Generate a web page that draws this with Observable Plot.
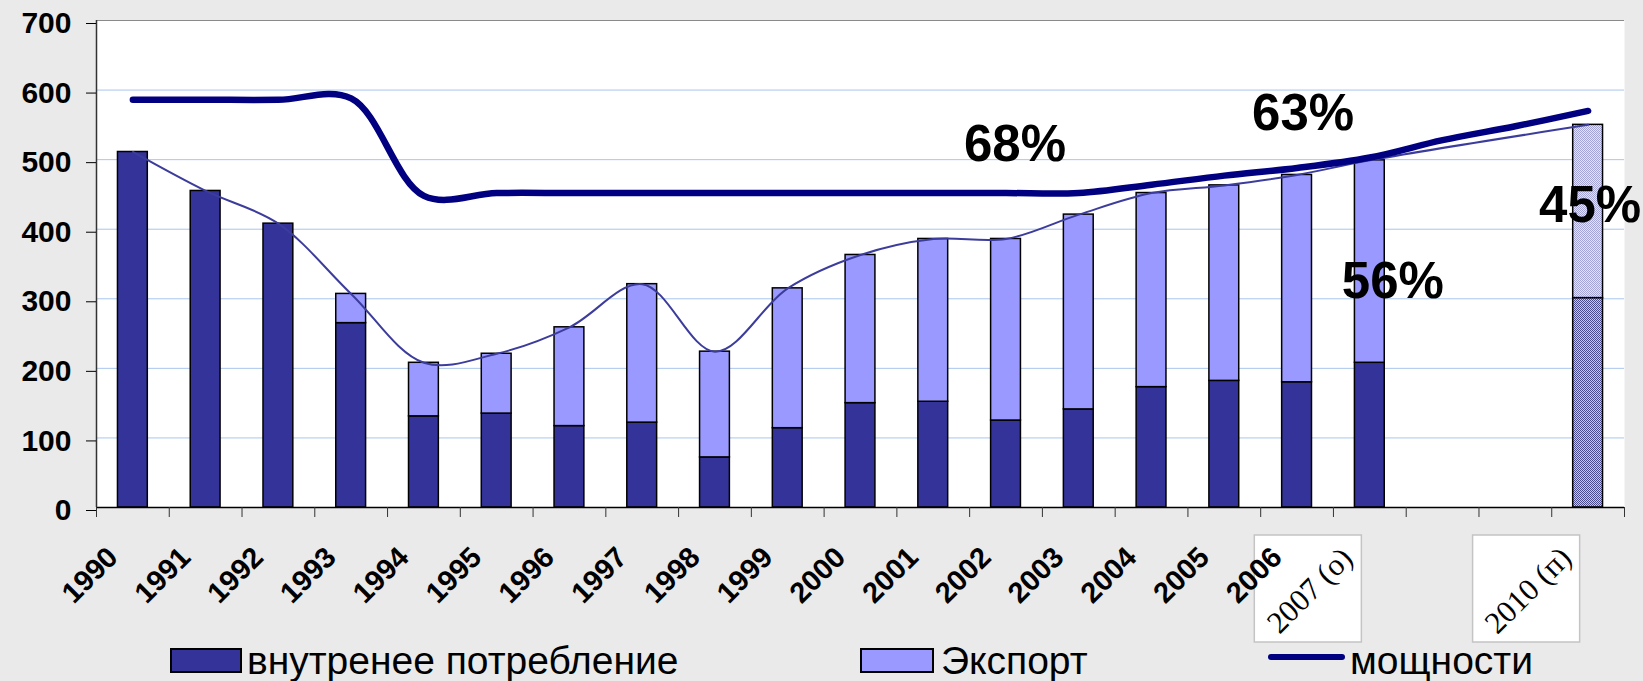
<!DOCTYPE html>
<html><head><meta charset="utf-8">
<script src="https://cdn.jsdelivr.net/npm/d3@7"></script>
<script src="https://cdn.jsdelivr.net/npm/@observablehq/plot@0.6"></script>
<style>
html,body{margin:0;padding:0;background:#eaeaea;}
#wrap{position:relative;width:1643px;height:681px;overflow:hidden;font-family:"Liberation Sans",Arial,sans-serif;}
#wrap svg{position:absolute;left:0;top:0;}
.sw{position:absolute;box-sizing:border-box;border:2px solid #000;}
.lt{position:absolute;font-size:39px;line-height:39px;color:#000;white-space:nowrap;}
.ll{position:absolute;height:6px;background:#000080;border-radius:3px;}
</style></head><body><div id="wrap"></div>
<script>
// categories
const years = ["1990","1991","1992","1993","1994","1995","1996","1997","1998","1999","2000","2001","2002","2003","2004","2005","2006","2007","2008","2009","2010"];
const barYears = ["1990","1991","1992","1993","1994","1995","1996","1997","1998","1999","2000","2001","2002","2003","2004","2005","2006","2007","2010"];
// series values
const domestic = [511,455,408,265,131,135,117,122,72,114,150,152,125,141,173,182,180,208,301];
const exportV  = [0,0,0,42,77,86,142,199,152,201,213,234,261,280,279,281,298,291,249];
const capacity = [586,586,586,588,448,452,452,452,452,452,452,452,452,452,464,477,488,503,528,548,570];
// tick labels
const yTicks = [0,100,200,300,400,500,600,700];
const gridTicks = [100,200,300,400,500,600];
const xTickYears = ["1990","1991","1992","1993","1994","1995","1996","1997","1998","1999","2000","2001","2002","2003","2004","2005","2006"];
const xTickLabels = ["1990","1991","1992","1993","1994","1995","1996","1997","1998","1999","2000","2001","2002","2003","2004","2005","2006"];
const specialYears = ["2007","2010"];
const specialLabels = ["2007 (о)","2010 (п)"];
// annotations
const pctText = ["68%","63%","56%","45%"];
const pctYear = ["2002","2006","2007","2010"];
const pctValue = [521,566,325,434];
const legendLabels = ["внутренее потребление","Экспорт","мощности"];

const W = 1643, H = 681, mL = 96, mR = 19, mT = 20, mB = 174;
const step = (W - mL - mR) / years.length;

const bars = barYears.flatMap((y, i) => [
  {year: y, series: "d", value: domestic[i], fill: y === "2010" ? "url(#pd)" : "#333399"},
  {year: y, series: "e", value: exportV[i], fill: y === "2010" ? "url(#pe)" : "#9999ff"}
]);
const totals = barYears.map((y, i) => ({year: y, v: domestic[i] + exportV[i]}));
const cap = years.map((y, i) => ({year: y, v: capacity[i]}));
const pctDx = [9, 6, 23, 2];

const svg = Plot.plot({
  width: W, height: H,
  marginLeft: mL, marginRight: mR, marginTop: mT, marginBottom: mB,
  style: {background: "transparent", fontFamily: "'Liberation Sans', Arial, sans-serif", color: "black"},
  x: {type: "band", domain: years, paddingInner: 0.59, paddingOuter: 0.295, align: 0.5, round: false, label: null},
  y: {domain: [0, 700], label: null},
  color: {type: "identity"},
  marks: [
    Plot.frame({fill: "white", stroke: null}),
    Plot.gridY(gridTicks, {stroke: "#a9c6ee", strokeOpacity: 1}),
    Plot.ruleY([700], {stroke: "#8a8a8a"}),
    Plot.barY(bars, {x: "year", y: "value", z: "series", fill: "fill", stroke: "black", strokeWidth: 1.5}),
    Plot.line(totals, {x: "year", y: "v", curve: "catmull-rom", stroke: "#3c3c9c", strokeWidth: 2}),
    Plot.line(cap, {x: "year", y: "v", curve: "catmull-rom", stroke: "#000080", strokeWidth: 6.5, strokeLinecap: "round"}),
    Plot.ruleY([0], {stroke: "black", strokeWidth: 1.5}),
    Plot.ruleX([years[0]], {dx: -step / 2, stroke: "#333", strokeWidth: 1.5}),
    Plot.axisY(yTicks, {label: null, tickSize: 10, tickPadding: 15, fontSize: 30, fontWeight: "bold", dy: 3, stroke: "black"}),
    Plot.axisX({label: null, tickSize: 10, tickFormat: () => "", dx: -step / 2, stroke: "#333"}),
    Plot.axisX([years[years.length - 1]], {label: null, tickSize: 10, tickFormat: () => "", dx: step / 2, stroke: "#333"}),
    Plot.dot(specialYears, {x: d => d, y: () => 0, dx: -62, dy: 81, symbol: "square", r: 60.4, fill: "white", stroke: "#c4c4c4"}),
    Plot.text(specialLabels, {x: (d, i) => specialYears[i], y: () => 0, text: d => d, dx: -60, dy: 83, rotate: -45, fontFamily: "'Liberation Serif', serif", fontSize: 31, fill: "#000"}),
    Plot.text(xTickLabels, {x: (d, i) => xTickYears[i], y: () => 0, text: d => d, dx: -20, dy: 45, rotate: -45, textAnchor: "end", lineAnchor: "middle", fontSize: 29, fontWeight: "bold", fill: "black"}),
    ...pctText.map((t, i) => Plot.text([t], {x: () => pctYear[i], y: () => pctValue[i], text: d => d, dx: pctDx[i], fontSize: 51, fontWeight: "bold", fill: "black"}))
  ]
});

const defs = d3.select(svg).insert("defs", ":first-child");
function pat(id, base, dot) {
  const p = defs.append("pattern").attr("id", id).attr("width", 2).attr("height", 2).attr("patternUnits", "userSpaceOnUse");
  p.append("rect").attr("width", 2).attr("height", 2).attr("fill", base);
  p.append("rect").attr("x", 0).attr("y", 0).attr("width", 1).attr("height", 1).attr("fill", dot);
  p.append("rect").attr("x", 1).attr("y", 1).attr("width", 1).attr("height", 1).attr("fill", dot);
}
pat("pd", "#c8c8de", "#4a4a8e");
pat("pe", "#e4e4f6", "#a4a4d6");

const wrap = document.getElementById("wrap");
wrap.appendChild(svg);
wrap.insertAdjacentHTML("beforeend", `
  <div class="sw" style="left:170px;top:648px;width:72px;height:25px;background:#333399"></div>
  <div class="lt" style="left:247px;top:641px">${legendLabels[0]}</div>
  <div class="sw" style="left:860px;top:648px;width:74px;height:25px;background:#9999ff"></div>
  <div class="lt" style="left:941px;top:641px">${legendLabels[1]}</div>
  <div class="ll" style="left:1268px;top:654px;width:77px"></div>
  <div class="lt" style="left:1350px;top:641px">${legendLabels[2]}</div>
`);
</script></body></html>
